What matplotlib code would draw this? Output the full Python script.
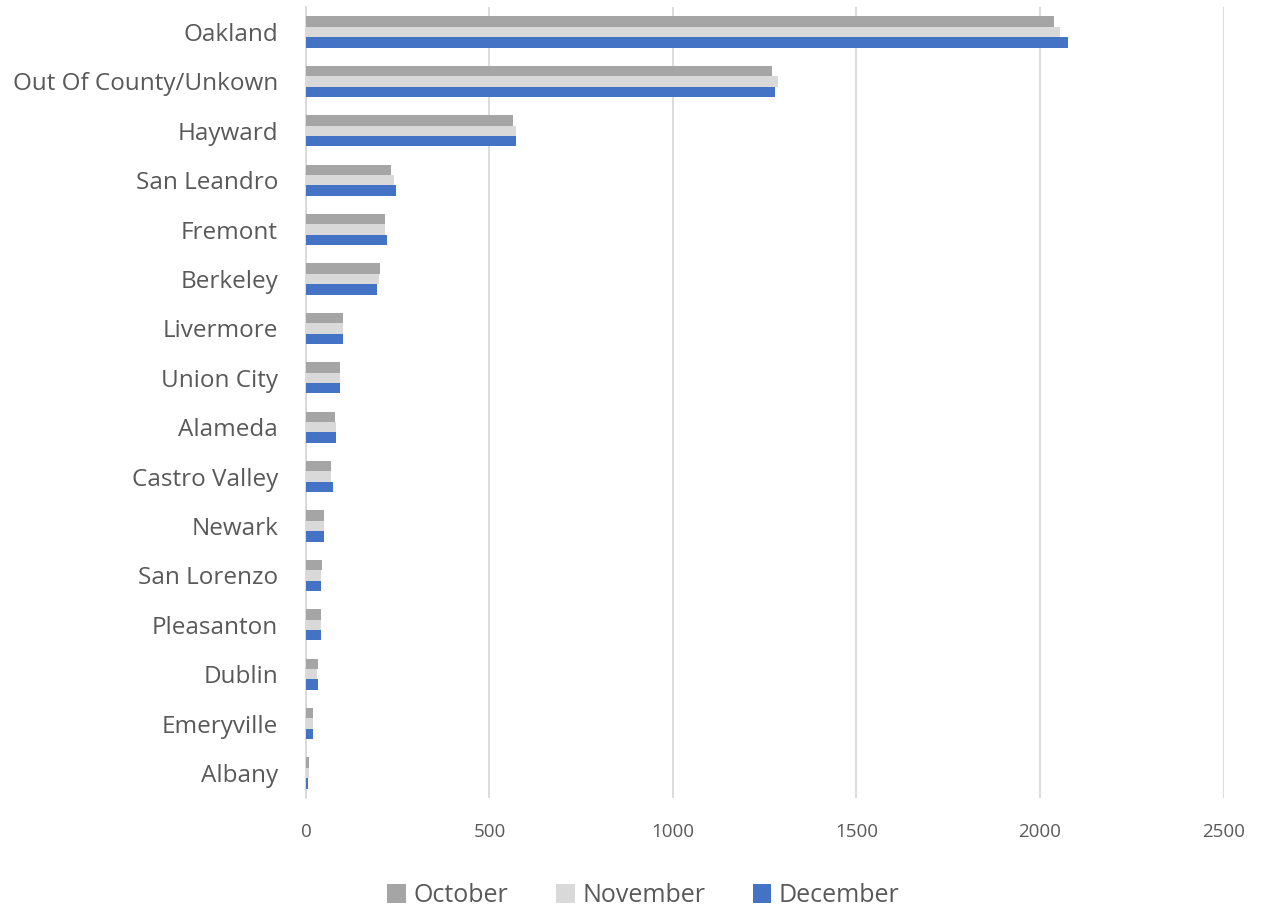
import numpy as np
import matplotlib.pyplot as plt

cities = ["Oakland", "Out Of County/Unkown", "Hayward", "San Leandro", "Fremont",
          "Berkeley", "Livermore", "Union City", "Alameda", "Castro Valley",
          "Newark", "San Lorenzo", "Pleasanton", "Dublin", "Emeryville", "Albany"]
october = [2039, 1269, 564, 231, 216, 201, 100, 94, 80, 69, 49, 43, 42, 32, 19, 9]
november = [2055, 1285, 572, 240, 216, 199, 100, 94, 82, 68, 49, 42, 42, 30, 19, 8]
december = [2077, 1277, 572, 245, 220, 195, 101, 93, 82, 73, 49, 40, 40, 32, 19, 7]

plt.rcParams['font.family'] = ['Open Sans', 'DejaVu Sans']

fig = plt.figure(figsize=(12.64, 9.07), dpi=100)
ax = fig.add_axes([0.242, 0.1205, 0.726, 0.8715])

y = np.arange(len(cities))
h = 0.21
ax.barh(y - h, october, height=h, color='#a5a5a5', label='October', zorder=3)
ax.barh(y, november, height=h, color='#d9d9d9', label='November', zorder=3)
ax.barh(y + h, december, height=h, color='#4472c4', label='December', zorder=3)

ax.set_xlim(0, 2500)
ax.set_ylim(len(cities) - 0.5, -0.5)
ax.set_xticks(np.arange(0, 2501, 500))
ax.set_yticks(y)
ax.set_yticklabels(cities, fontsize=17.5, color='#595959')
ax.tick_params(axis='x', labelsize=13.5, colors='#595959', length=0, pad=18)
ax.tick_params(axis='y', length=0, pad=20)
ax.grid(axis='x', color='#d9d9d9', linewidth=1.3, zorder=0)
for s in ['top', 'right', 'bottom']:
    ax.spines[s].set_visible(False)
ax.spines['left'].set_color('#d9d9d9')
ax.spines['left'].set_linewidth(1.3)

fig.legend(loc='lower center', bbox_to_anchor=(0.509, -0.026), ncol=3, frameon=False,
           fontsize=18, labelcolor='#595959', handlelength=0.75, handleheight=0.75,
           handletextpad=0.3, columnspacing=1.9)

fig.savefig('out.png', dpi=100)
